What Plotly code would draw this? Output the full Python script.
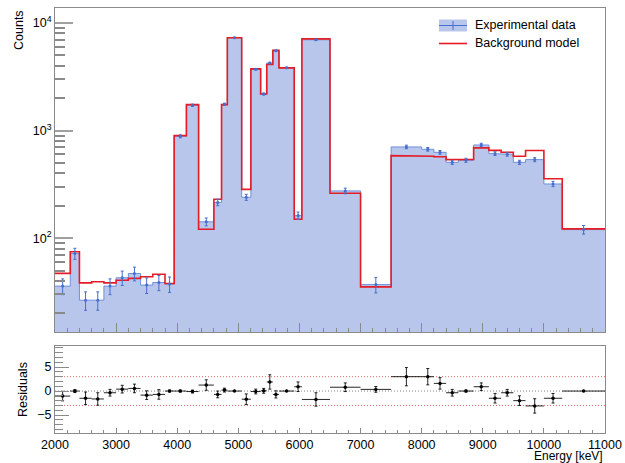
import numpy as np
import plotly.graph_objects as go

# ---------------- data ----------------
bin_edges = [2000, 2250, 2400, 2600, 2800, 3000, 3200, 3400, 3600, 3800, 3950,
             4150, 4350, 4600, 4725, 4820, 5055, 5205, 5365, 5465, 5565, 5665,
             5915, 6040, 6500, 7000, 7500, 8000, 8200, 8400, 8600, 8850, 9100,
             9300, 9500, 9700, 10000, 10300, 11000]

data_counts = [35.8, 72, 26.5, 26.5, 35.8, 42.8, 46.9, 36.6, 38.7, 37.4,
               885, 1720, 142, 215, 1755, 7300, 240, 3720, 2190, 4250,
               5530, 3830, 162, 6990, 275, 37, 705, 670, 628, 507,
               530, 735, 611, 603, 507, 537, 319, 120]

model_counts = [47, 74.7, 38.4, 39.3, 38.4, 40.6, 42.2, 43.7, 46.2, 37.8,
                898, 1745, 121, 230, 1745, 7300, 284, 3750, 2190, 4110,
                5585, 3830, 150, 7130, 261, 35.2, 585, 577, 572, 537,
                540, 690, 655, 628, 577, 652, 357, 122]

residuals = [-1.05, 0.0, -1.5, -1.65, -0.35, 0.4, 0.55, -0.85, -0.7, 0.0,
             0.0, -0.1, 1.25, -0.7, 0.2, 0.0, -1.7, -0.1, 0.05, 1.9,
             -0.7, 0.0, 0.9, -1.75, 0.8, 0.35, 3.0, 3.0, 1.6, -0.35,
             0.0, 0.9, -1.5, -0.35, -2.0, -3.1, -1.5, 0.0]

residual_errors = [1.0, 0.3, 1.3, 1.3, 0.7, 0.8, 0.9, 0.9, 1.0, 0.2,
                   0.2, 0.3, 1.1, 0.7, 0.4, 0.1, 1.1, 0.5, 0.5, 1.5,
                   0.75, 0.1, 1.0, 1.4, 0.9, 0.6, 1.9, 1.7, 1.2, 0.7,
                   0.2, 0.8, 1.0, 0.7, 1.0, 1.5, 1.0, 0.1]

y_ticks_main = [100, 1000, 10000]
y_ticktext_main = ["10<sup>2</sup>", "10<sup>3</sup>", "10<sup>4</sup>"]
x_ticks = [2000, 3000, 4000, 5000, 6000, 7000, 8000, 9000, 10000, 11000]
x_ticktext = ["2000", "3000", "4000", "5000", "6000", "7000", "8000", "9000",
              "10000", "11000"]

# ---------------- derived ----------------
edges = np.array(bin_edges, dtype=float)
centers = 0.5 * (edges[:-1] + edges[1:])
half_w = 0.5 * (edges[1:] - edges[:-1])
d = np.array(data_counts, dtype=float)
m = np.array(model_counts, dtype=float)


def step_xy(vals):
    xs, ys = [], []
    for i, v in enumerate(vals):
        xs += [edges[i], edges[i + 1]]
        ys += [v, v]
    return xs, ys


dx, dy = step_xy(d)
mx, my = step_xy(m)

FONT = "Liberation Sans, Arial, Helvetica, sans-serif"
FILL = "rgb(183,198,234)"
BLUE_LINE = "rgba(95,130,215,0.85)"
BLUE_ERR = "rgb(70,110,205)"
RED = "rgb(228,28,38)"
FRAME = "#8a8a8a"

fig = go.Figure()

# filled data histogram
fig.add_trace(go.Scatter(
    x=[edges[0]] + dx + [edges[-1]], y=[1] + dy + [1],
    mode="lines", fill="toself", fillcolor=FILL,
    line=dict(color="rgba(0,0,0,0)", width=0),
    hoverinfo="skip", showlegend=False, xaxis="x", yaxis="y"))
# data outline
fig.add_trace(go.Scatter(
    x=dx, y=dy, mode="lines", line=dict(color=BLUE_LINE, width=1),
    hoverinfo="skip", showlegend=False, xaxis="x", yaxis="y"))
# model
fig.add_trace(go.Scatter(
    x=mx, y=my, mode="lines", line=dict(color=RED, width=1.6),
    showlegend=False, xaxis="x", yaxis="y"))
# data points with error bars
fig.add_trace(go.Scatter(
    x=centers, y=d, mode="markers",
    marker=dict(color=BLUE_ERR, size=3),
    error_y=dict(type="data", array=np.sqrt(d), color=BLUE_ERR,
                 thickness=1, width=1.5),
    showlegend=False, xaxis="x", yaxis="y"))

# residuals
fig.add_trace(go.Scatter(
    x=centers, y=residuals, mode="markers",
    marker=dict(color="black", size=3.5),
    error_x=dict(type="data", array=half_w, color="rgba(0,0,0,0.85)",
                 thickness=1, width=0),
    error_y=dict(type="data", array=residual_errors, color="rgba(0,0,0,0.85)",
                 thickness=1, width=1.5),
    showlegend=False, xaxis="x2", yaxis="y2"))

# residual reference lines
for yv, col in [(0, "rgba(120,120,120,0.9)"), (3, "rgba(215,60,60,0.8)"),
                (-3, "rgba(215,60,60,0.8)")]:
    fig.add_shape(type="line", xref="x2", yref="y2", x0=edges[0], x1=edges[-1],
                  y0=yv, y1=yv, line=dict(color=col, width=1, dash="1px,2px"),
                  layer="below")

# plot area in pixels: x 55..605, y 8..433
L, R, T, B = 55, 20, 8, 30
W, H = 625, 463
PW, PH = W - L - R, H - T - B


def px(xp):
    return (xp - L) / PW


def py(yp):
    return (H - B - yp) / PH


# manual legend
fig.add_shape(type="rect", xref="paper", yref="paper",
              x0=px(439), x1=px(467), y0=py(31.5), y1=py(19.5),
              fillcolor=FILL, line=dict(width=0))
fig.add_shape(type="line", xref="paper", yref="paper",
              x0=px(439), x1=px(467), y0=py(25.5), y1=py(25.5),
              line=dict(color=BLUE_ERR, width=1))
fig.add_shape(type="line", xref="paper", yref="paper",
              x0=px(453), x1=px(453), y0=py(21), y1=py(30),
              line=dict(color=BLUE_ERR, width=1))
fig.add_shape(type="line", xref="paper", yref="paper",
              x0=px(439), x1=px(467), y0=py(43.5), y1=py(43.5),
              line=dict(color=RED, width=1.6))
fig.add_annotation(xref="paper", yref="paper", x=px(473), y=py(25.5),
                   text="Experimental data", showarrow=False,
                   xanchor="left", yanchor="middle",
                   font=dict(family=FONT, size=12.5, color="black"))
fig.add_annotation(xref="paper", yref="paper", x=px(473), y=py(43.5),
                   text="Background model", showarrow=False,
                   xanchor="left", yanchor="middle",
                   font=dict(family=FONT, size=12.5, color="black"))

# axis titles
fig.add_annotation(xref="paper", yref="paper", x=px(19), y=py(8),
                   text="Counts", textangle=-90, showarrow=False,
                   xanchor="center", yanchor="top",
                   font=dict(family=FONT, size=12.5, color="black"))
fig.add_annotation(xref="paper", yref="paper", x=px(23), y=py(390),
                   text="Residuals", textangle=-90, showarrow=False,
                   xanchor="center", yanchor="middle",
                   font=dict(family=FONT, size=12.5, color="black"))
fig.add_annotation(xref="paper", yref="paper", x=px(604), y=py(456),
                   text="Energy [keV]", showarrow=False, borderpad=0,
                   xanchor="right", yanchor="middle",
                   font=dict(family=FONT, size=12, color="black"))

minor_log = [k * 10 ** e for e in (1, 2, 3) for k in range(2, 10)
             if k * 10 ** e not in y_ticks_main]

main_dom = [py(332), 1.0]
res_dom = [0.0, py(346)]

fig.update_layout(
    width=W, height=H,
    margin=dict(l=L, r=R, t=T, b=B, autoexpand=False),
    paper_bgcolor="white", plot_bgcolor="white",
    font=dict(family=FONT, size=12.5, color="black"),
    showlegend=False,
    xaxis=dict(domain=[0, 1], anchor="y", range=[2000, 11000],
               showticklabels=False, ticks="inside", ticklen=9,
               tickcolor=FRAME, tickvals=x_ticks, automargin=False,
               minor=dict(ticks="inside", ticklen=4, dtick=200, tick0=2000,
                          tickcolor=FRAME, showgrid=False),
               showgrid=False, zeroline=False,
               showline=True, linecolor=FRAME, linewidth=1, mirror=True),
    yaxis=dict(domain=main_dom, anchor="x", type="log",
               range=[np.log10(13.4), np.log10(13800)], automargin=False,
               tickvals=y_ticks_main, ticktext=y_ticktext_main,
               ticks="inside", ticklen=18, tickcolor="#a0a0a0", tickwidth=1.5,
               minor=dict(ticks="inside", ticklen=10, tickvals=minor_log,
                          tickcolor=FRAME, showgrid=False),
               showgrid=False, zeroline=False,
               showline=True, linecolor=FRAME, linewidth=1, mirror=True,
               tickfont=dict(size=12.5)),
    xaxis2=dict(domain=[0, 1], anchor="y2", range=[2000, 11000],
                matches="x", tickvals=x_ticks, ticktext=x_ticktext,
                automargin=False, ticklabelstandoff=0,
                ticks="inside", ticklen=5, tickcolor=FRAME,
                minor=dict(ticks="inside", ticklen=3, dtick=200, tick0=2000,
                           tickcolor=FRAME, showgrid=False),
                showgrid=False, zeroline=False,
                showline=True, linecolor=FRAME, linewidth=1, mirror=True,
                tickfont=dict(size=12.5)),
    yaxis2=dict(domain=res_dom, anchor="x2", range=[-8.75, 9.4],
                automargin=False,
                tickvals=[-5, 0, 5], ticktext=["\u22125", "0", "5"],
                ticks="inside", ticklen=14, tickcolor=FRAME,
                minor=dict(ticks="inside", ticklen=8, dtick=1, tick0=0,
                           tickcolor=FRAME, showgrid=False),
                showgrid=False, zeroline=False,
                showline=True, linecolor=FRAME, linewidth=1, mirror=True,
                tickfont=dict(size=12.5)),
)

fig.write_html("out.html")
